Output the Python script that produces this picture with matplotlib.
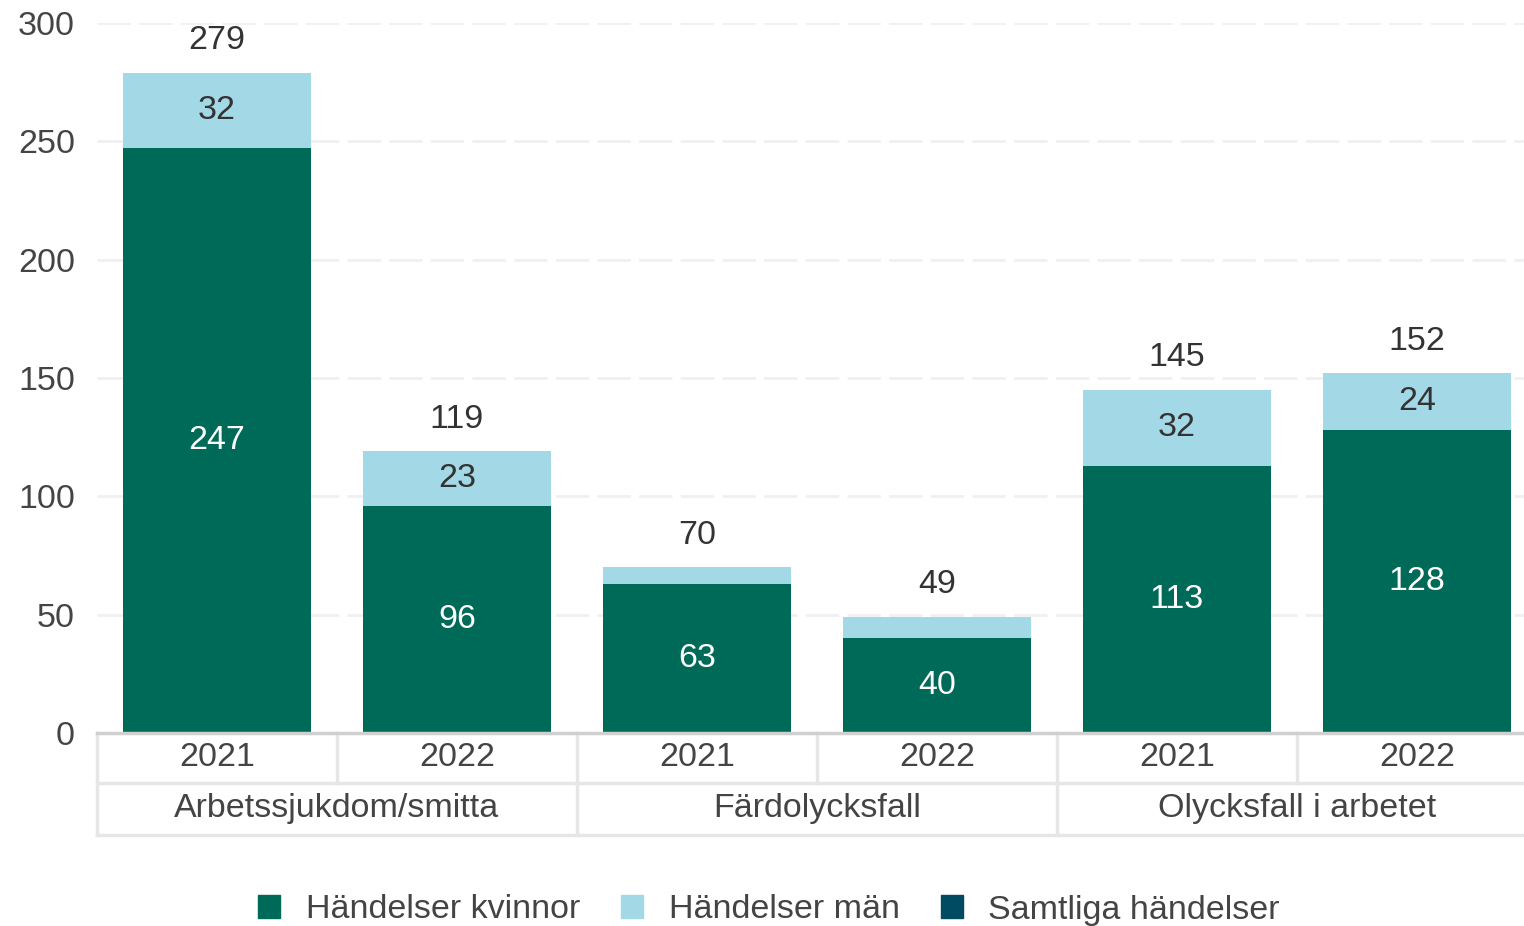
import matplotlib

matplotlib.use("Agg")
import matplotlib.pyplot as plt
from matplotlib.patches import Patch

plt.rcParams["font.family"] = ["Liberation Sans", "DejaVu Sans"]

categories = ["Arbetssjukdom/smitta", "Färdolycksfall", "Olycksfall i arbetet"]
years = ["2021", "2022"]
kvinnor = [247, 96, 63, 40, 113, 128]
man = [32, 23, 7, 9, 32, 24]
totals = [279, 119, 70, 49, 145, 152]
yticks = [0, 50, 100, 150, 200, 250, 300]

c_kvinnor = "#006A58"
c_man = "#A3D8E6"
c_total = "#004A62"
text_dark = "#333333"
grid_col = "#F0F0F0"
table_col = "#E6E6E6"
fs = 24.5

W, H = 1524, 926
fig = plt.figure(figsize=(W / 100, H / 100), dpi=100)
left, right, bottom, top = 97, 1537, 733, 23
ax = fig.add_axes([left / W, (H - bottom) / H, (right - left) / W, (bottom - top) / H])

x = list(range(len(kvinnor)))
bw = 0.78
ax.bar(x, kvinnor, width=bw, color=c_kvinnor, zorder=3)
ax.bar(x, man, width=bw, bottom=kvinnor, color=c_man, zorder=3)

for i in x:
    ax.text(i, kvinnor[i] / 2, str(kvinnor[i]), ha="center", va="center",
            color="white", fontsize=fs, zorder=4)
    if man[i] >= 15:
        ax.text(i, kvinnor[i] + man[i] / 2, str(man[i]), ha="center", va="center",
                color=text_dark, fontsize=fs, zorder=4)
    ax.text(i, totals[i] + 7, str(totals[i]), ha="center", va="bottom",
            color=text_dark, fontsize=fs, zorder=4)

ax.set_xlim(-0.5, len(x) - 0.5)
ax.set_ylim(0, 300)
ax.set_yticks(yticks)
ax.set_yticklabels([str(t) for t in yticks], fontsize=fs, color="#444444")
ax.tick_params(axis="y", length=0, pad=16)
ax.set_xticks([])
for s in ["top", "right", "left"]:
    ax.spines[s].set_visible(False)
ax.spines["bottom"].set_color("#D0D0D0")
ax.spines["bottom"].set_linewidth(2.5)
ax.spines["bottom"].set_zorder(5)
ax.yaxis.grid(True, color=grid_col, linewidth=2, linestyle=(0, (12, 3)), zorder=0)
ax.set_axisbelow(True)

# two-level category table below the axis
tr = ax.get_xaxis_transform()
row1 = -50 / 710
row2 = -102 / 710
kw = dict(transform=tr, clip_on=False, color=table_col, linewidth=2.5)
ax.plot([-0.5, len(x) - 0.5], [row1, row1], **kw)
ax.plot([-0.5, len(x) - 0.5], [row2, row2], **kw)
ax.plot([-0.5, -0.5], [0, row2], **kw)
for i in range(1, len(x)):
    y_end = row2 if i % 2 == 0 else row1
    ax.plot([i - 0.5, i - 0.5], [0, y_end], **kw)

for i in x:
    ax.text(i, row1 / 2, years[i % 2], transform=tr, ha="center", va="center",
            fontsize=fs, color="#444444")
for j, cat in enumerate(categories):
    ax.text(2 * j + 0.5, (row1 + row2) / 2, cat, transform=tr, ha="center",
            va="center", fontsize=fs, color="#444444")

handles = [Patch(color=c_kvinnor, label="Händelser kvinnor"),
           Patch(color=c_man, label="Händelser män"),
           Patch(color=c_total, label="Samtliga händelser")]
fig.legend(handles=handles, loc="center", bbox_to_anchor=(769 / W, (H - 910) / H),
           ncol=3, frameon=False, fontsize=fs, labelcolor="#444444",
           handlelength=0.65, handleheight=0.65, handletextpad=0.75, columnspacing=1.2)

fig.savefig("out.png", dpi=100)
